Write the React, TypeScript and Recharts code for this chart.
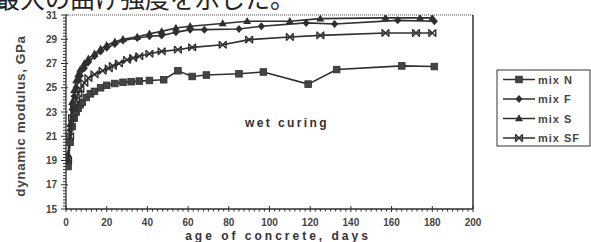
import React from 'react';
import { LineChart, Line, XAxis, YAxis, ReferenceLine } from 'recharts';

// ---- data ----
const nDays = [1, 2, 3, 4, 5, 6, 7, 8, 10, 12, 14, 17, 20, 24, 28, 32, 36, 41, 48, 55, 62, 69, 85, 97, 119, 133, 165, 181];
const nValues = [18.5, 20.5, 21.8, 22.5, 23.0, 23.3, 23.6, 23.8, 24.2, 24.5, 24.7, 25.0, 25.2, 25.35, 25.45, 25.5, 25.55, 25.6, 25.66, 26.4, 25.93, 26.05, 26.15, 26.3, 25.3, 26.5, 26.8, 26.75];

const fDays = [1, 2, 3, 4, 5, 6, 7, 9, 11, 14, 17, 20, 24, 28, 35, 41, 47, 54, 61, 68, 85, 96, 118, 132, 163, 181];
const fValues = [19.0, 21.5, 23.2, 24.3, 25.0, 25.6, 26.0, 26.6, 27.1, 27.6, 28.0, 28.3, 28.6, 28.9, 29.1, 29.25, 29.3, 29.57, 29.79, 29.79, 29.85, 30.07, 30.35, 30.26, 30.56, 30.48];

const sDays = [1, 2, 3, 4, 5, 6, 7, 9, 11, 14, 17, 20, 24, 28, 35, 41, 47, 54, 61, 77, 89, 110, 125, 157, 174, 180];
const sValues = [19.5, 22.0, 23.8, 24.8, 25.6, 26.1, 26.5, 27.0, 27.4, 27.8, 28.2, 28.5, 28.8, 29.0, 29.2, 29.45, 29.65, 29.93, 30.07, 30.3, 30.48, 30.48, 30.7, 30.76, 30.76, 30.76];

const sfDays = [1, 2, 3, 4, 5, 6, 7, 9, 11, 14, 18, 21, 23, 26, 30, 33, 36, 41, 47, 55, 62, 77, 90, 110, 125, 157, 172, 180];
const sfValues = [19.0, 21.0, 22.5, 23.4, 24.0, 24.5, 24.9, 25.4, 25.8, 26.1, 26.4, 26.6, 26.8, 27.0, 27.3, 27.45, 27.6, 27.8, 28.0, 28.14, 28.33, 28.55, 28.97, 29.19, 29.32, 29.52, 29.52, 29.52];

const seriesNames = ['mix N', 'mix F', 'mix S', 'mix SF'];
const xTickLabels = [0, 20, 40, 60, 80, 100, 120, 140, 160, 180, 200];
const yTickLabels = [15, 17, 19, 21, 23, 25, 27, 29, 31];

const xMinorStep = 2.5;
const yMinorStep = 0.25;
const xTicks: number[] = [];
for (let v = 0; v <= 200 + 1e-9; v += xMinorStep) xTicks.push(Math.round(v * 100) / 100);
const yTicks: number[] = [];
for (let v = 15; v <= 31 + 1e-9; v += yMinorStep) yTicks.push(Math.round(v * 100) / 100);

const zip = (d: number[], v: number[]) => d.map((day, i) => ({ day, v: v[i] }));
const dataN = zip(nDays, nValues);
const dataF = zip(fDays, fValues);
const dataS = zip(sDays, sValues);
const dataSF = zip(sfDays, sfValues);

const INK = '#2f2f2f';
const FONT = '"Liberation Sans", Arial, sans-serif';

// ---- markers ----
const SquareMark = ({ cx, cy }: any) => (
  <rect x={cx - 3.3} y={cy - 3.3} width={6.6} height={6.6} fill="#444" stroke={INK} strokeWidth={0.8} />
);
const DiamondMark = ({ cx, cy }: any) => (
  <polygon points={`${cx},${cy - 4} ${cx + 3.6},${cy} ${cx},${cy + 4} ${cx - 3.6},${cy}`} fill={INK} />
);
const TriangleMark = ({ cx, cy }: any) => (
  <polygon points={`${cx},${cy - 4.2} ${cx + 4},${cy + 2.8} ${cx - 4},${cy + 2.8}`} fill={INK} />
);
const StarMark = ({ cx, cy }: any) => (
  <g stroke={INK} strokeWidth={1.4} fill="none">
    <line x1={cx - 3.2} y1={cy - 3.2} x2={cx + 3.2} y2={cy + 3.2} />
    <line x1={cx - 3.2} y1={cy + 3.2} x2={cx + 3.2} y2={cy - 3.2} />
    <line x1={cx - 3.4} y1={cy - 3.8} x2={cx - 3.4} y2={cy + 3.8} />
    <line x1={cx + 3.4} y1={cy - 3.8} x2={cx + 3.4} y2={cy + 3.8} />
  </g>
);

const dotOf = (Comp: any, tag: string) => (p: any) =>
  p.cx == null || p.cy == null ? <g key={`${tag}-${p.index}`} /> : <Comp key={`${tag}-${p.index}`} cx={p.cx} cy={p.cy} />;

// ---- ticks ----
const XTick = (props: any) => {
  const { x, y, payload } = props;
  const v = payload.value;
  const major = xTickLabels.includes(v);
  return (
    <g>
      <line x1={x} x2={x} y1={major ? y - 3 : y} y2={y + (major ? 3 : 2.5)} stroke={INK} strokeWidth={1} />
      {major && (
        <text x={x} y={y + 16.5} textAnchor="middle" fontFamily={FONT} fontWeight="bold" fontSize={10} fill="#444">
          {v}
        </text>
      )}
    </g>
  );
};

const YTick = (props: any) => {
  const { x, y, payload } = props;
  const v = payload.value;
  const major = yTickLabels.includes(v);
  return (
    <g>
      <line x1={major ? x - 5 : x - 3} x2={major ? x + 2 : x} y1={y} y2={y} stroke={INK} strokeWidth={1} />
      {major && (
        <text x={x - 9} y={y + 3.5} textAnchor="end" fontFamily={FONT} fontWeight="bold" fontSize={10} fill="#444">
          {v}
        </text>
      )}
    </g>
  );
};

const legendMarks = [SquareMark, DiamondMark, TriangleMark, StarMark];
const legendY = [79.5, 99, 118.5, 138];

export default function App() {
  return (
    <div style={{ position: 'absolute', left: 0, top: 0, width: 591, height: 242, background: '#fff', overflow: 'hidden' }}>
      <LineChart width={591} height={242} margin={{ top: 15, right: 118, bottom: 0, left: 0 }}>
        <XAxis
          type="number"
          dataKey="day"
          domain={[0, 200]}
          ticks={xTicks}
          interval={0}
          tick={<XTick />}
          tickLine={false}
          tickSize={0}
          tickMargin={0}
          height={33}
          axisLine={{ stroke: INK, strokeWidth: 1.3 }}
          allowDataOverflow
        />
        <YAxis
          type="number"
          domain={[15, 31]}
          ticks={yTicks}
          interval={0}
          tick={<YTick />}
          tickLine={false}
          tickSize={0}
          tickMargin={0}
          width={66}
          axisLine={{ stroke: INK, strokeWidth: 1.3 }}
          allowDataOverflow
        />
        <ReferenceLine y={31} stroke="#888" strokeDasharray="1 1" strokeWidth={1.5} />
        <ReferenceLine x={200} stroke={INK} strokeWidth={1.5} />
        <Line data={dataN} dataKey="v" name={seriesNames[0]} stroke={INK} strokeWidth={1.6} dot={dotOf(SquareMark, 'n')} isAnimationActive={false} />
        <Line data={dataF} dataKey="v" name={seriesNames[1]} stroke={INK} strokeWidth={1.6} dot={dotOf(DiamondMark, 'f')} isAnimationActive={false} />
        <Line data={dataS} dataKey="v" name={seriesNames[2]} stroke={INK} strokeWidth={1.6} dot={dotOf(TriangleMark, 's')} isAnimationActive={false} />
        <Line data={dataSF} dataKey="v" name={seriesNames[3]} stroke={INK} strokeWidth={1.6} dot={dotOf(StarMark, 'sf')} isAnimationActive={false} />
      </LineChart>
      <svg width={591} height={242} style={{ position: 'absolute', left: 0, top: 0, pointerEvents: 'none' }}>
        <text x={-5} y={8} fontFamily='"Noto Sans CJK JP", sans-serif' fontSize={25} fill="#222">
          最大の曲げ強度を示した。
        </text>
        <text
          transform="translate(25,116) rotate(-90)"
          textAnchor="middle"
          fontFamily={FONT}
          fontWeight="bold"
          fontSize={13.5}
          letterSpacing={0.6}
          fill="#444"
        >
          dynamic modulus, GPa
        </text>
        <text x={278} y={240} textAnchor="middle" fontFamily={FONT} fontWeight="bold" fontSize={12} letterSpacing={3} fill="#333">
          age of concrete, days
        </text>
        <text x={245} y={127} fontFamily={FONT} fontWeight="bold" fontSize={12} letterSpacing={2.4} fill="#333">
          wet curing
        </text>
        <rect x={497} y={70} width={93} height={76} fill="#fff" stroke="#555" strokeWidth={1.2} />
        {seriesNames.map((name, i) => {
          const M = legendMarks[i];
          const y = legendY[i];
          return (
            <g key={name}>
              <line x1={503} x2={535} y1={y} y2={y} stroke={INK} strokeWidth={1.5} />
              <M cx={519} cy={y} />
              <text x={538} y={y + 4} fontFamily={FONT} fontWeight="bold" fontSize={11} letterSpacing={1} fill="#444">
                {name}
              </text>
            </g>
          );
        })}
      </svg>
    </div>
  );
}
